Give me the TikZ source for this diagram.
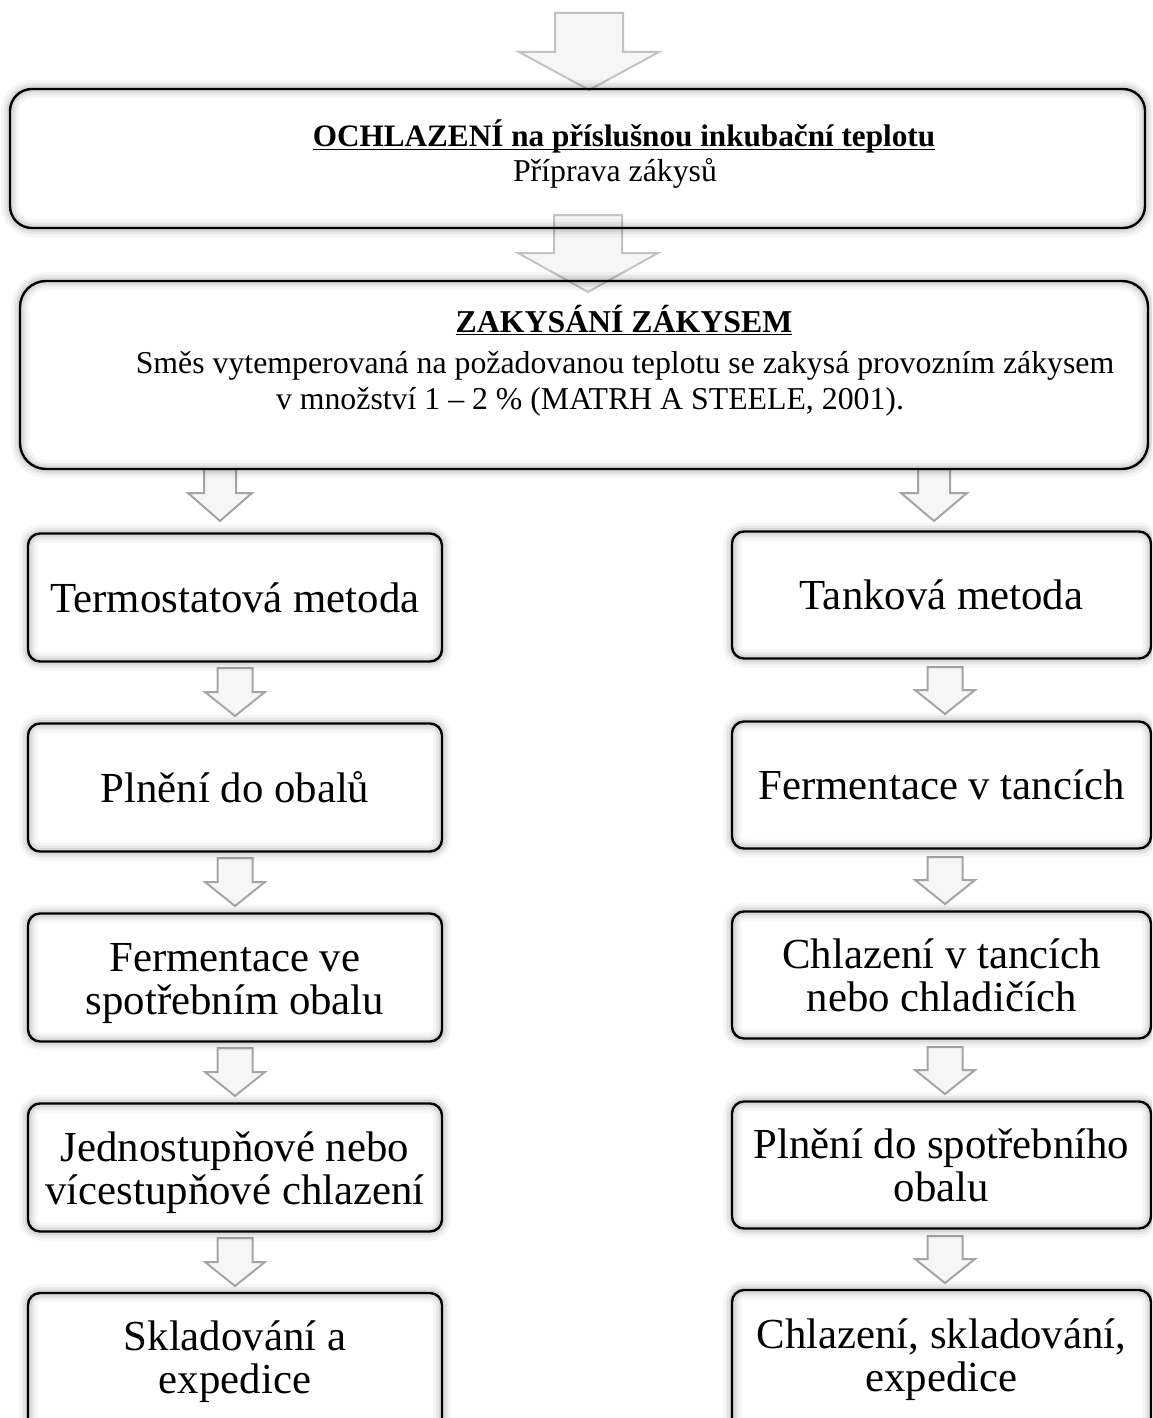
\documentclass[tikz,border=0pt]{standalone}
\usepackage{fontspec}
\setmainfont{Liberation Serif}
\usetikzlibrary{positioning}
\definecolor{arrline}{RGB}{165,165,165}
\definecolor{arrlinelight}{RGB}{195,195,195}
\definecolor{arrfill}{RGB}{246,246,246}
\tikzstyle{glow} = [preaction={draw=black, opacity=0.035, line width=9pt},
                    preaction={draw=black, opacity=0.05, line width=6pt},
                    preaction={draw=black, opacity=0.07, line width=3.5pt}]
\tikzstyle{bigbox} = [draw, line width=1.2pt, rounded corners=11pt, glow, inner sep=0pt]
\tikzstyle{stepbox} = [bigbox, rounded corners=6pt, align=center, font=\fontsize{21.4}{21.5}\selectfont]
\tikzstyle{small} = [inner sep=0pt, font=\fontsize{15.9}{18.5}\selectfont]
\tikzstyle{blockarr} = [draw=arrline, fill=arrfill, line width=1pt, line join=miter]
\tikzstyle{bigarr} = [blockarr, draw=arrlinelight]
% block arrow: style, centre x, top, start of head, tip, half shaft, half head
\newcommand{\blockarrow}[7]{%
  \path[#1] (#2-#6,#3) -- (#2+#6,#3) -- (#2+#6,#4) -- (#2+#7,#4) -- (#2,#5)
    -- (#2-#7,#4) -- (#2-#6,#4) -- cycle;}
% taller first line, pushes a two line text a bit down
\newcommand{\tallstrut}{\rule{0pt}{20.5pt}}
% underline close to the baseline
\newcommand{\ulined}[1]{\setbox0\hbox{#1}\rlap{\rule[-1.6pt]{\wd0}{0.7pt}}\box0}

\begin{document}
\begin{tikzpicture}[x=0.5pt, y=-0.5pt]
	\useasboundingbox (0,0) rectangle (1152,1418);
	\clip (0,0) rectangle (1152,1418);

	% arrows first, the boxes are drawn over them
	\blockarrow{bigarr}{589}{13}{52}{90}{34}{70}
	\blockarrow{bigarr}{588}{215}{253}{292}{34}{70}
	\blockarrow{blockarr}{220}{469}{493}{521}{16}{32}
	\blockarrow{blockarr}{934}{469}{493}{521}{16}{33}

	\blockarrow{blockarr}{235}{668}{692}{716}{17.5}{30}
	\blockarrow{blockarr}{235}{858}{882}{906}{17.5}{30}
	\blockarrow{blockarr}{235}{1048}{1072}{1096}{17.5}{30}
	\blockarrow{blockarr}{235}{1238}{1262}{1286}{17.5}{30}
	\blockarrow{blockarr}{945}{667}{690}{714}{17.5}{30}
	\blockarrow{blockarr}{945}{857}{880}{904}{17.5}{30}
	\blockarrow{blockarr}{945}{1047}{1070}{1094}{17.5}{30}
	\blockarrow{blockarr}{945}{1236}{1259}{1283}{17.5}{30}

	% top boxes
	\node [bigbox, minimum width=567.5pt, minimum height=69.5pt] (ochl) at (577.5,158.5) {};
	\node [small, anchor=base, font=\fontsize{15.6}{18.5}\selectfont] (ochltitle) at (624,147) {\textbf{\ulined{OCHLAZENÍ na příslušnou inkubační teplotu}}};
	\node [small, anchor=base] (ochlsub) at (615,181) {Příprava zákysů};

	\node [bigbox, rounded corners=13pt, minimum width=564pt, minimum height=94pt] (zakys) at (584,375) {};
	\node [small, anchor=base] (zakystitle) at (624,332) {\textbf{\ulined{ZAKYSÁNÍ ZÁKYSEM}}};
	\node [small, anchor=base] (zakysa) at (625,373) {Směs vytemperovaná na požadovanou teplotu se zakysá provozním zákysem};
	\node [small, anchor=base] (zakysb) at (590,409) {v množství 1 – 2 \% (MATRH A STEELE, 2001).};

	% left column
	\node [stepbox, minimum width=207pt, minimum height=64pt] (term) at (235,597.5) {Termostatová metoda};
	\node [stepbox, minimum width=207pt, minimum height=64pt] (plneni) at (235,787.5) {Plnění do obalů};
	\node [stepbox, minimum width=207pt, minimum height=64pt] (ferm) at (235,977.5) {\tallstrut Fermentace ve\\spotřebním obalu};
	\node [stepbox, minimum width=207pt, minimum height=64pt] (jedno) at (235,1167.5) {\tallstrut Jednostupňové nebo\\vícestupňové chlazení};
	\node [stepbox, minimum width=207pt, minimum height=68.5pt] (sklad) at (235,1361.5) {Skladování a\\expedice};

	% right column
	\node [stepbox, minimum width=209.5pt, minimum height=63.5pt] (tank) at (941.5,595) {Tanková metoda};
	\node [stepbox, minimum width=209.5pt, minimum height=63.5pt] (fermtank) at (941.5,785) {Fermentace v tancích};
	\node [stepbox, minimum width=209.5pt, minimum height=63.5pt] (chlaz) at (941.5,975) {Chlazení v tancích\\nebo chladičích};
	\node [stepbox, minimum width=209.5pt, minimum height=63.5pt] (plnspot) at (941.5,1165) {Plnění do spotřebního\\obalu};
	\node [stepbox, minimum width=209.5pt, minimum height=70pt] (expe) at (941.5,1360) {Chlazení, skladování,\\expedice};
\end{tikzpicture}
\end{document}
